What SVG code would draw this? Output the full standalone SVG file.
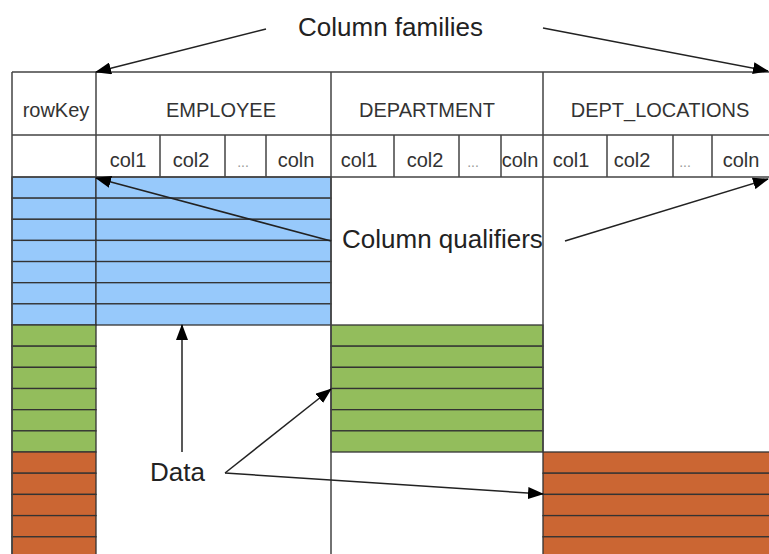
<svg xmlns="http://www.w3.org/2000/svg" width="769" height="554" viewBox="0 0 769 554">
<style>
.grid{stroke:#444;stroke-width:1.5;fill:none}
.hdr{font-family:"Liberation Sans",Arial,sans-serif;font-size:20px;fill:#333;text-anchor:middle}
.dots{font-family:"Liberation Sans",Arial,sans-serif;font-size:14px;fill:#999;text-anchor:middle}
.lbl{font-family:"Liberation Sans",Arial,sans-serif;font-size:26px;fill:#222}
.blue{fill:#97c9fb;stroke:#333;stroke-width:1.3}
.green{fill:#93bd5c;stroke:#333;stroke-width:1.3}
.orange{fill:#cb6633;stroke:#333;stroke-width:1.3}
.arr{stroke:#222;stroke-width:1.5;fill:none;marker-end:url(#ah)}
</style>
<defs>
<marker id="ah" markerUnits="userSpaceOnUse" markerWidth="16" markerHeight="12" viewBox="0 0 16 12" refX="15" refY="6" orient="auto">
<path d="M0,0 L16,6 L0,12 z" fill="#000"/>
</marker>
</defs>
<rect width="769" height="554" fill="#fff"/>

<g id="rows-blue">
<rect class="blue" x="12" y="177" width="84" height="21.14"/><rect class="blue" x="96" y="177" width="235" height="21.14"/>
<rect class="blue" x="12" y="198.14" width="84" height="21.14"/><rect class="blue" x="96" y="198.14" width="235" height="21.14"/>
<rect class="blue" x="12" y="219.28" width="84" height="21.14"/><rect class="blue" x="96" y="219.28" width="235" height="21.14"/>
<rect class="blue" x="12" y="240.42" width="84" height="21.14"/><rect class="blue" x="96" y="240.42" width="235" height="21.14"/>
<rect class="blue" x="12" y="261.56" width="84" height="21.14"/><rect class="blue" x="96" y="261.56" width="235" height="21.14"/>
<rect class="blue" x="12" y="282.7" width="84" height="21.14"/><rect class="blue" x="96" y="282.7" width="235" height="21.14"/>
<rect class="blue" x="12" y="303.84" width="84" height="21.16"/><rect class="blue" x="96" y="303.84" width="235" height="21.16"/>
</g>

<g id="rows-green">
<rect class="green" x="12" y="325" width="84" height="21.17"/><rect class="green" x="331" y="325" width="212" height="21.17"/>
<rect class="green" x="12" y="346.17" width="84" height="21.17"/><rect class="green" x="331" y="346.17" width="212" height="21.17"/>
<rect class="green" x="12" y="367.34" width="84" height="21.17"/><rect class="green" x="331" y="367.34" width="212" height="21.17"/>
<rect class="green" x="12" y="388.51" width="84" height="21.17"/><rect class="green" x="331" y="388.51" width="212" height="21.17"/>
<rect class="green" x="12" y="409.68" width="84" height="21.17"/><rect class="green" x="331" y="409.68" width="212" height="21.17"/>
<rect class="green" x="12" y="430.85" width="84" height="21.15"/><rect class="green" x="331" y="430.85" width="212" height="21.15"/>
</g>

<g id="rows-orange">
<rect class="orange" x="12" y="452" width="84" height="21.2"/><rect class="orange" x="543" y="452" width="230" height="21.2"/>
<rect class="orange" x="12" y="473.2" width="84" height="21.2"/><rect class="orange" x="543" y="473.2" width="230" height="21.2"/>
<rect class="orange" x="12" y="494.4" width="84" height="21.2"/><rect class="orange" x="543" y="494.4" width="230" height="21.2"/>
<rect class="orange" x="12" y="515.6" width="84" height="21.2"/><rect class="orange" x="543" y="515.6" width="230" height="21.2"/>
<rect class="orange" x="12" y="536.8" width="84" height="21.2"/><rect class="orange" x="543" y="536.8" width="230" height="21.2"/>
</g>

<g id="grid">
<path class="grid" d="M12,72 H772 M12,135 H772 M12,177 H772"/>
<path class="grid" d="M12,72 V556 M96,72 V177 M331,72 V556 M543,72 V452"/>
<path class="grid" d="M160,135 V177 M225,135 V177 M266,135 V177 M394,135 V177 M459,135 V177 M501,135 V177 M607,135 V177 M673,135 V177 M712,135 V177"/>
</g>

<g id="rowKey"><text class="hdr" x="56" y="117">rowKey</text></g>
<g id="employee">
<text class="hdr" x="221" y="117">EMPLOYEE</text>
<text class="hdr" x="128" y="167">col1</text>
<text class="hdr" x="191" y="167">col2</text>
<text class="dots" x="243" y="167">...</text>
<text class="hdr" x="296" y="167">coln</text>
</g>
<g id="department">
<text class="hdr" x="427" y="117">DEPARTMENT</text>
<text class="hdr" x="359" y="167">col1</text>
<text class="hdr" x="425" y="167">col2</text>
<text class="dots" x="473" y="167">...</text>
<text class="hdr" x="520" y="167">coln</text>
</g>
<g id="dept_locations">
<text class="hdr" x="660" y="117">DEPT_LOCATIONS</text>
<text class="hdr" x="571" y="167">col1</text>
<text class="hdr" x="632" y="167">col2</text>
<text class="dots" x="685" y="167">...</text>
<text class="hdr" x="741" y="167">coln</text>
</g>

<g id="labels">
<text class="lbl" x="298" y="36">Column families</text>
<text class="lbl" x="342" y="248">Column qualifiers</text>
<text class="lbl" x="150" y="481">Data</text>
</g>

<g id="connectors">
<line class="arr" x1="266" y1="29" x2="96" y2="72"/>
<line class="arr" x1="543" y1="28" x2="768" y2="71"/>
<line class="arr" x1="331" y1="241" x2="96" y2="178"/>
<line class="arr" x1="565" y1="241" x2="768" y2="179"/>
<line class="arr" x1="182" y1="452" x2="182" y2="325"/>
<line class="arr" x1="225" y1="473" x2="331" y2="389"/>
<line class="arr" x1="225" y1="473" x2="543" y2="494"/>
</g>
</svg>
